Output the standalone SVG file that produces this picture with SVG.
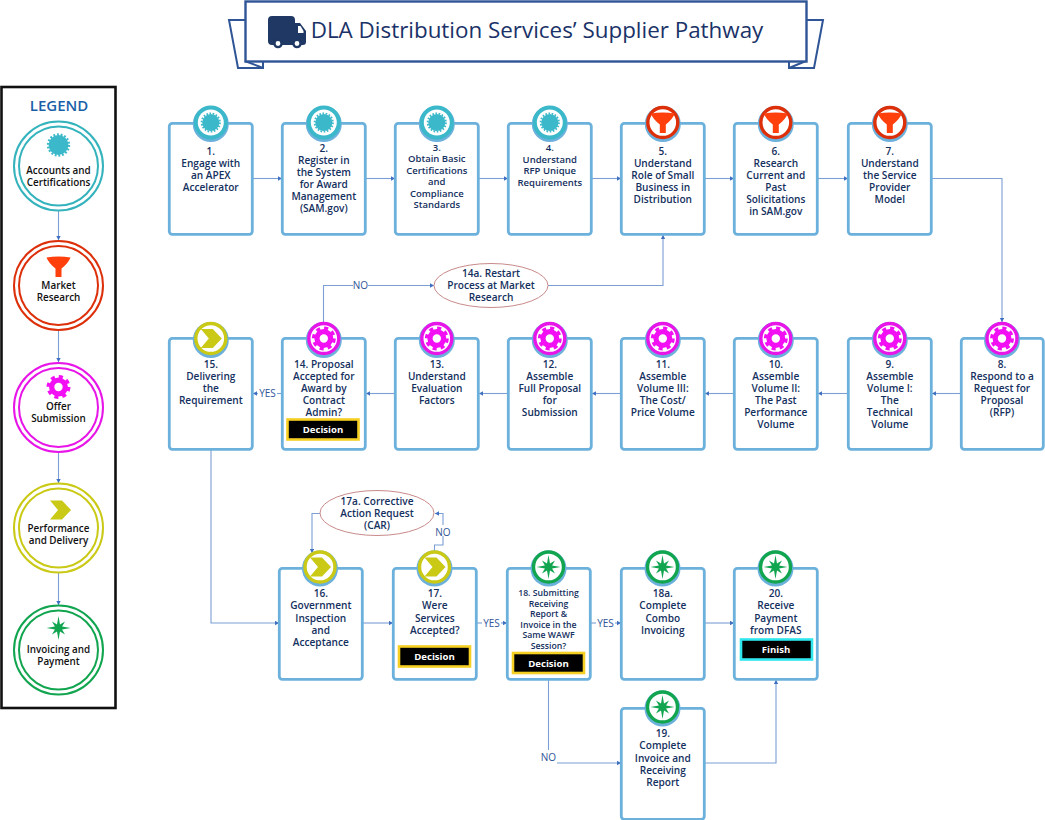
<svg xmlns="http://www.w3.org/2000/svg" width="1045" height="820" viewBox="0 0 1045 820">
<style>
text{font-family:"Open Sans","Noto Sans","Liberation Sans",sans-serif;text-anchor:middle;font-weight:600}
.t{font-size:10.1px;fill:#14305e}
.s{font-size:9.5px;fill:#14305e}
.x{font-size:8.7px;fill:#14305e}
.l{font-size:9.9px;fill:#111}
.lab{font-size:10px;fill:#2f5597;font-weight:400}
.box{fill:#fff;stroke:#6cb1dc;stroke-width:2.8}
.c{fill:none;stroke:#7b9fd4;stroke-width:1.1;marker-end:url(#a)}
.b1{fill:#000;stroke:#f5cf22;stroke-width:2.6}
.b2{fill:#000;stroke:#2fe6ee;stroke-width:2.6}
.w{font-size:9.6px;fill:#fff;font-weight:700}
.o{fill:#fff;stroke:#c98a8a;stroke-width:1}
.lg{fill:none;stroke-width:2}
</style>
<defs>
<marker id="a" markerWidth="5" markerHeight="6" refX="4" refY="2.2" orient="auto" markerUnits="userSpaceOnUse"><path d="M0,0L4,2.2L0,4.400z" fill="#3f6fc0"/></marker>
<g id="burst"><circle r="9" fill="#3bb8c9"/><circle r="9.6" fill="none" stroke="#3bb8c9" stroke-width="2" stroke-dasharray="1.7 1.65"/></g>
<path id="funnel" fill="#ff3f0c" d="M-12,-8.500Q0,-10.500 12,-8.500Q10,-3 3,2.500V11H-3V2.500Q-10,-3 -12,-8.500z"/>
<g id="gear"><circle r="6.5" fill="none" stroke="#f30ff3" stroke-width="5"/><circle r="9.6" fill="none" stroke="#f30ff3" stroke-width="3.6" stroke-dasharray="3.8 3.74"/></g>
<polygon id="chev" fill="#c9c916" points="-10,-9.500 2,-9.500 11,0 2,9.500 -10,9.500 -2,0"/>
<polygon id="star" fill="#12a550" points="0,-12 1.500,-3.600 6.500,-6.500 3.600,-1.500 12,0 3.600,1.500 6.500,6.500 1.500,3.600 0,12 -1.500,3.600 -6.500,6.500 -3.600,1.500 -12,0 -3.600,-1.500 -6.500,-6.500 -1.500,-3.600"/>
<g id="bT"><circle cy="1.5" r="18" fill="#6cb1dc"/><circle r="15" fill="#fff" stroke="#3bb8c9" stroke-width="4"/><use href="#burst" transform="scale(.95)"/></g>
<g id="bR"><circle cy="1.5" r="18" fill="#6cb1dc"/><circle r="15" fill="#fff" stroke="#dc2f0a" stroke-width="3.4"/><use href="#funnel" transform="translate(0,-.5)"/></g>
<g id="bM"><circle cy="1.5" r="18" fill="#6cb1dc"/><circle r="15" fill="#fff" stroke="#e815e8" stroke-width="3.4"/><use href="#gear" transform="scale(1.05)"/></g>
<g id="bO"><circle cy="1.5" r="18" fill="#6cb1dc"/><circle r="15" fill="#fff" stroke="#c9c916" stroke-width="3.4"/><use href="#chev"/></g>
<g id="bG"><circle cy="1.5" r="18" fill="#6cb1dc"/><circle r="15" fill="#fff" stroke="#12a550" stroke-width="3.4"/><use href="#star"/></g>
</defs>
<rect width="1045" height="820" fill="#fff"/>

<g id="title">
<path d="M245,20H229L238,68H263V61M806,20H823L814,68H789V61" fill="#fff" stroke="#2f5597" stroke-width="2"/>
<path d="M245,61L263,68M806,61L789,68" fill="none" stroke="#2f5597" stroke-width="2"/>
<rect x="245.500" y="1.500" width="561" height="60" fill="#fff" stroke="#2f5597" stroke-width="2.400"/>
<path fill="#1f3864" d="M272,16H291Q295,16 295,20V23H300L306,31V42Q306,45 303,45H272Q268,45 268,41V20Q268,16 272,16z"/>
<circle cx="278" cy="43.500" r="3.600" fill="#fff" stroke="#1f3864" stroke-width="2.400"/><circle cx="297" cy="43.500" r="3.600" fill="#fff" stroke="#1f3864" stroke-width="2.400"/>
<path fill="#fff" d="M298,26H300.500L303.500,31V33H298z"/>
<text x="537" y="38" style="font-size:22.400px;fill:#1a3268;font-weight:400">DLA Distribution Services’ Supplier Pathway</text>
</g>

<g id="legend">
<rect x="1.500" y="87" width="114" height="621" fill="#fff" stroke="#111" stroke-width="2.600"/>
<text x="59" y="110.500" style="font-size:15px;fill:#1a5fa8">LEGEND</text>
</g>
<g id="connectors">
<path class="c" d="M58.500,211V240"/><path class="c" d="M58.500,331V362"/><path class="c" d="M58.500,453V483"/><path class="c" d="M58.500,573V605"/>
<path class="c" d="M253,178.500H282"/><path class="c" d="M366,178.500H395"/><path class="c" d="M479,178.500H508"/><path class="c" d="M592,178.500H621"/><path class="c" d="M705,178.500H734"/><path class="c" d="M818,178.500H848"/>
<path class="c" d="M932,178.500H1002V322"/>
<path class="c" d="M961,393.500H932"/><path class="c" d="M848,393.500H818"/><path class="c" d="M734,393.500H705"/><path class="c" d="M621,393.500H592"/><path class="c" d="M508,393.500H479"/><path class="c" d="M395,393.500H366"/><path class="c" d="M282,393.500H253"/>
<path class="c" d="M323.500,322V285.500H434"/><path class="c" d="M548,285.500H663V235"/>
<path class="c" d="M211,450V623H279"/><path class="c" d="M363,623H393"/><path class="c" d="M477,623H507"/><path class="c" d="M591,623H621"/><path class="c" d="M705,623H734"/>
<path class="c" d="M434.500,552V545H443V513.500H435"/><path class="c" d="M320,513.500H312V553"/>
<path class="c" d="M548.500,680V763H621"/><path class="c" d="M705,763H776V680"/>
</g>
<g id="connector-labels">
<rect x="353" y="280" width="15" height="10" fill="#fff"/><text class="lab" x="360.500" y="289">NO</text>
<rect x="258" y="388" width="19" height="11" fill="#fff"/><text class="lab" x="267.500" y="397">YES</text>
<rect x="435" y="525" width="16" height="11" fill="#fff"/><text class="lab" x="443" y="536">NO</text>
<rect x="482" y="618" width="19" height="10" fill="#fff"/><text class="lab" x="491.500" y="627">YES</text>
<rect x="596" y="618" width="19" height="10" fill="#fff"/><text class="lab" x="605.500" y="627">YES</text>
<rect x="541" y="750" width="16" height="14" fill="#fff"/><text class="lab" x="548.500" y="761">NO</text>
</g>

<g id="legend-accounts"><circle class="lg" cx="58.500" cy="166" r="44.500" stroke="#35b3bd"/><circle class="lg" cx="58.500" cy="166" r="39.500" stroke="#35b3bd" fill="#fff"/><use href="#burst" transform="translate(58.500,145) scale(1.100)"/><text class="l" x="58.500" y="174">Accounts and</text><text class="l" x="58.500" y="186">Certifications</text></g>
<g id="legend-market"><circle class="lg" cx="58.500" cy="285.500" r="44.500" stroke="#dc2f0a"/><circle class="lg" cx="58.500" cy="285.500" r="39.500" stroke="#dc2f0a"/><use href="#funnel" transform="translate(58.500,266)"/><text class="l" x="58.500" y="288.500">Market</text><text class="l" x="58.500" y="300.500">Research</text></g>
<g id="legend-offer"><circle class="lg" cx="58.500" cy="407.500" r="44.500" stroke="#e815e8"/><circle class="lg" cx="58.500" cy="407.500" r="39.500" stroke="#e815e8"/><use href="#gear" transform="translate(58.500,387) scale(1.050)"/><text class="l" x="58.500" y="410">Offer</text><text class="l" x="58.500" y="422">Submission</text></g>
<g id="legend-performance"><circle class="lg" cx="58.500" cy="528" r="44.500" stroke="#c9c916"/><circle class="lg" cx="58.500" cy="528" r="39.500" stroke="#c9c916"/><use href="#chev" transform="translate(60,510)"/><text class="l" x="58.500" y="532">Performance</text><text class="l" x="58.500" y="544">and Delivery</text></g>
<g id="legend-invoicing"><circle class="lg" cx="58.500" cy="650" r="44.500" stroke="#12a550"/><circle class="lg" cx="58.500" cy="650" r="39.500" stroke="#12a550"/><use href="#star" transform="translate(58.500,628)"/><text class="l" x="58.500" y="653">Invoicing and</text><text class="l" x="58.500" y="665">Payment</text></g>

<g id="n1"><rect class="box" x="169.300" y="123.300" width="83" height="111" rx="3"/><use href="#bT" x="210.800" y="122.500"/><text class="t"><tspan x="210.800" y="155">1.</tspan><tspan x="210.800" y="167">Engage with</tspan><tspan x="210.800" y="179">an APEX</tspan><tspan x="210.800" y="191">Accelerator</tspan></text></g>
<g id="n2"><rect class="box" x="282.300" y="123.300" width="83" height="111" rx="3"/><use href="#bT" x="323.800" y="122.500"/><text class="t"><tspan x="323.800" y="152">2.</tspan><tspan x="323.800" y="164">Register in</tspan><tspan x="323.800" y="176">the System</tspan><tspan x="323.800" y="188">for Award</tspan><tspan x="323.800" y="200">Management</tspan><tspan x="323.800" y="212">(SAM.gov)</tspan></text></g>
<g id="n3"><rect class="box" x="395.300" y="123.300" width="83" height="111" rx="3"/><use href="#bT" x="436.800" y="122.500"/><text class="s"><tspan x="436.800" y="150.500">3.</tspan><tspan x="436.800" y="162">Obtain Basic</tspan><tspan x="436.800" y="173.500">Certifications</tspan><tspan x="436.800" y="185">and</tspan><tspan x="436.800" y="196.500">Compliance</tspan><tspan x="436.800" y="208">Standards</tspan></text></g>
<g id="n4"><rect class="box" x="508.300" y="123.300" width="83" height="111" rx="3"/><use href="#bT" x="549.800" y="122.500"/><text class="s"><tspan x="549.800" y="151">4.</tspan><tspan x="549.800" y="162.500">Understand</tspan><tspan x="549.800" y="174">RFP Unique</tspan><tspan x="549.800" y="185.500">Requirements</tspan></text></g>
<g id="n5"><rect class="box" x="621.300" y="123.300" width="83" height="111" rx="3"/><use href="#bR" x="662.800" y="122.500"/><text class="t"><tspan x="662.800" y="154.500">5.</tspan><tspan x="662.800" y="166.500">Understand</tspan><tspan x="662.800" y="178.500">Role of Small</tspan><tspan x="662.800" y="190.500">Business in</tspan><tspan x="662.800" y="202.500">Distribution</tspan></text></g>
<g id="n6"><rect class="box" x="734.300" y="123.300" width="83" height="111" rx="3"/><use href="#bR" x="775.800" y="122.500"/><text class="t"><tspan x="775.800" y="154.500">6.</tspan><tspan x="775.800" y="166.500">Research</tspan><tspan x="775.800" y="178.500">Current and</tspan><tspan x="775.800" y="190.500">Past</tspan><tspan x="775.800" y="202.500">Solicitations</tspan><tspan x="775.800" y="214.500">in SAM.gov</tspan></text></g>
<g id="n7"><rect class="box" x="848.300" y="123.300" width="83" height="111" rx="3"/><use href="#bR" x="889.800" y="122.500"/><text class="t"><tspan x="889.800" y="154.500">7.</tspan><tspan x="889.800" y="166.500">Understand</tspan><tspan x="889.800" y="178.500">the Service</tspan><tspan x="889.800" y="190.500">Provider</tspan><tspan x="889.800" y="202.500">Model</tspan></text></g>

<g id="n8"><rect class="box" x="961.300" y="338.300" width="82" height="111" rx="3"/><use href="#bM" x="1002" y="338.500"/><text class="t"><tspan x="1002" y="368">8.</tspan><tspan x="1002" y="380">Respond to a</tspan><tspan x="1002" y="392">Request for</tspan><tspan x="1002" y="404">Proposal</tspan><tspan x="1002" y="416">(RFP)</tspan></text></g>
<g id="n9"><rect class="box" x="848.300" y="338.300" width="83" height="111" rx="3"/><use href="#bM" x="889.800" y="338.500"/><text class="t"><tspan x="889.800" y="368">9.</tspan><tspan x="889.800" y="380">Assemble</tspan><tspan x="889.800" y="392">Volume I:</tspan><tspan x="889.800" y="404">The</tspan><tspan x="889.800" y="416">Technical</tspan><tspan x="889.800" y="428">Volume</tspan></text></g>
<g id="n10"><rect class="box" x="734.300" y="338.300" width="83" height="111" rx="3"/><use href="#bM" x="775.800" y="338.500"/><text class="t"><tspan x="775.800" y="368">10.</tspan><tspan x="775.800" y="380">Assemble</tspan><tspan x="775.800" y="392">Volume II:</tspan><tspan x="775.800" y="404">The Past</tspan><tspan x="775.800" y="416">Performance</tspan><tspan x="775.800" y="428">Volume</tspan></text></g>
<g id="n11"><rect class="box" x="621.300" y="338.300" width="83" height="111" rx="3"/><use href="#bM" x="662.800" y="338.500"/><text class="t"><tspan x="662.800" y="368">11.</tspan><tspan x="662.800" y="380">Assemble</tspan><tspan x="662.800" y="392">Volume III:</tspan><tspan x="662.800" y="404">The Cost/</tspan><tspan x="662.800" y="416">Price Volume</tspan></text></g>
<g id="n12"><rect class="box" x="508.300" y="338.300" width="83" height="111" rx="3"/><use href="#bM" x="549.800" y="338.500"/><text class="t"><tspan x="549.800" y="368">12.</tspan><tspan x="549.800" y="380">Assemble</tspan><tspan x="549.800" y="392">Full Proposal</tspan><tspan x="549.800" y="404">for</tspan><tspan x="549.800" y="416">Submission</tspan></text></g>
<g id="n13"><rect class="box" x="395.300" y="338.300" width="83" height="111" rx="3"/><use href="#bM" x="436.800" y="338.500"/><text class="t"><tspan x="436.800" y="368">13.</tspan><tspan x="436.800" y="380">Understand</tspan><tspan x="436.800" y="392">Evaluation</tspan><tspan x="436.800" y="404">Factors</tspan></text></g>
<g id="n14"><rect class="box" x="282.300" y="338.300" width="83" height="111" rx="3"/><use href="#bM" x="323.800" y="338.500"/><text class="t"><tspan x="323.800" y="368">14. Proposal</tspan><tspan x="323.800" y="380">Accepted for</tspan><tspan x="323.800" y="392">Award by</tspan><tspan x="323.800" y="404">Contract</tspan><tspan x="323.800" y="416">Admin?</tspan></text><rect class="b1" x="287.500" y="419.500" width="71" height="20"/><text class="w" x="323" y="433">Decision</text></g>
<g id="n15"><rect class="box" x="169.300" y="338.300" width="83" height="111" rx="3"/><use href="#bO" x="210.800" y="338.500"/><text class="t"><tspan x="210.800" y="368">15.</tspan><tspan x="210.800" y="380">Delivering</tspan><tspan x="210.800" y="392">the</tspan><tspan x="210.800" y="404">Requirement</tspan></text></g>
<g id="n14a"><ellipse class="o" cx="491" cy="285.500" rx="57" ry="22"/><text class="t"><tspan x="491" y="277">14a. Restart</tspan><tspan x="491" y="289">Process at Market</tspan><tspan x="491" y="301">Research</tspan></text></g>
<g id="n17a"><ellipse class="o" cx="377" cy="513" rx="57" ry="22.500"/><text class="t"><tspan x="377" y="505">17a. Corrective</tspan><tspan x="377" y="517">Action Request</tspan><tspan x="377" y="529">(CAR)</tspan></text></g>

<g id="n16"><rect class="box" x="279.300" y="568.300" width="83" height="111" rx="3"/><use href="#bO" x="320" y="567"/><text class="t"><tspan x="320.800" y="597">16.</tspan><tspan x="320.800" y="609">Government</tspan><tspan x="320.800" y="621.500">Inspection</tspan><tspan x="320.800" y="633.500">and</tspan><tspan x="320.800" y="645.500">Acceptance</tspan></text></g>
<g id="n17"><rect class="box" x="393.300" y="568.300" width="83" height="111" rx="3"/><use href="#bO" x="434.500" y="567"/><text class="t"><tspan x="434.800" y="597">17.</tspan><tspan x="434.800" y="609">Were</tspan><tspan x="434.800" y="621.500">Services</tspan><tspan x="434.800" y="633.500">Accepted?</tspan></text><rect class="b1" x="399" y="646.500" width="71" height="20"/><text class="w" x="434.500" y="660">Decision</text></g>
<g id="n18"><rect class="box" x="507.300" y="568.300" width="83" height="111" rx="3"/><use href="#bG" x="548.500" y="567"/><text class="x"><tspan x="548.500" y="596">18. Submitting</tspan><tspan x="548.500" y="606.600">Receiving</tspan><tspan x="548.500" y="617.200">Report &amp;</tspan><tspan x="548.500" y="627.800">Invoice in the</tspan><tspan x="548.500" y="638.400">Same WAWF</tspan><tspan x="548.500" y="649">Session?</tspan></text><rect class="b1" x="513" y="653" width="71" height="20"/><text class="w" x="548.500" y="666.500">Decision</text></g>
<g id="n18a"><rect class="box" x="621.300" y="568.300" width="83" height="111" rx="3"/><use href="#bG" x="662.500" y="567"/><text class="t"><tspan x="662.800" y="597">18a.</tspan><tspan x="662.800" y="609">Complete</tspan><tspan x="662.800" y="621.500">Combo</tspan><tspan x="662.800" y="633.500">Invoicing</tspan></text></g>
<g id="n20"><rect class="box" x="734.300" y="568.300" width="83" height="111" rx="3"/><use href="#bG" x="775.500" y="567"/><text class="t"><tspan x="775.800" y="597">20.</tspan><tspan x="775.800" y="609">Receive</tspan><tspan x="775.800" y="621.500">Payment</tspan><tspan x="775.800" y="633.500">from DFAS</tspan></text><rect class="b2" x="741" y="639.500" width="71" height="20"/><text class="w" x="776" y="653">Finish</text></g>
<g id="n19"><rect class="box" x="621.300" y="708.300" width="83" height="111" rx="3"/><use href="#bG" x="662.500" y="707"/><text class="t"><tspan x="662.800" y="737">19.</tspan><tspan x="662.800" y="749">Complete</tspan><tspan x="662.800" y="761.500">Invoice and</tspan><tspan x="662.800" y="773.500">Receiving</tspan><tspan x="662.800" y="785.500">Report</tspan></text></g>
</svg>
